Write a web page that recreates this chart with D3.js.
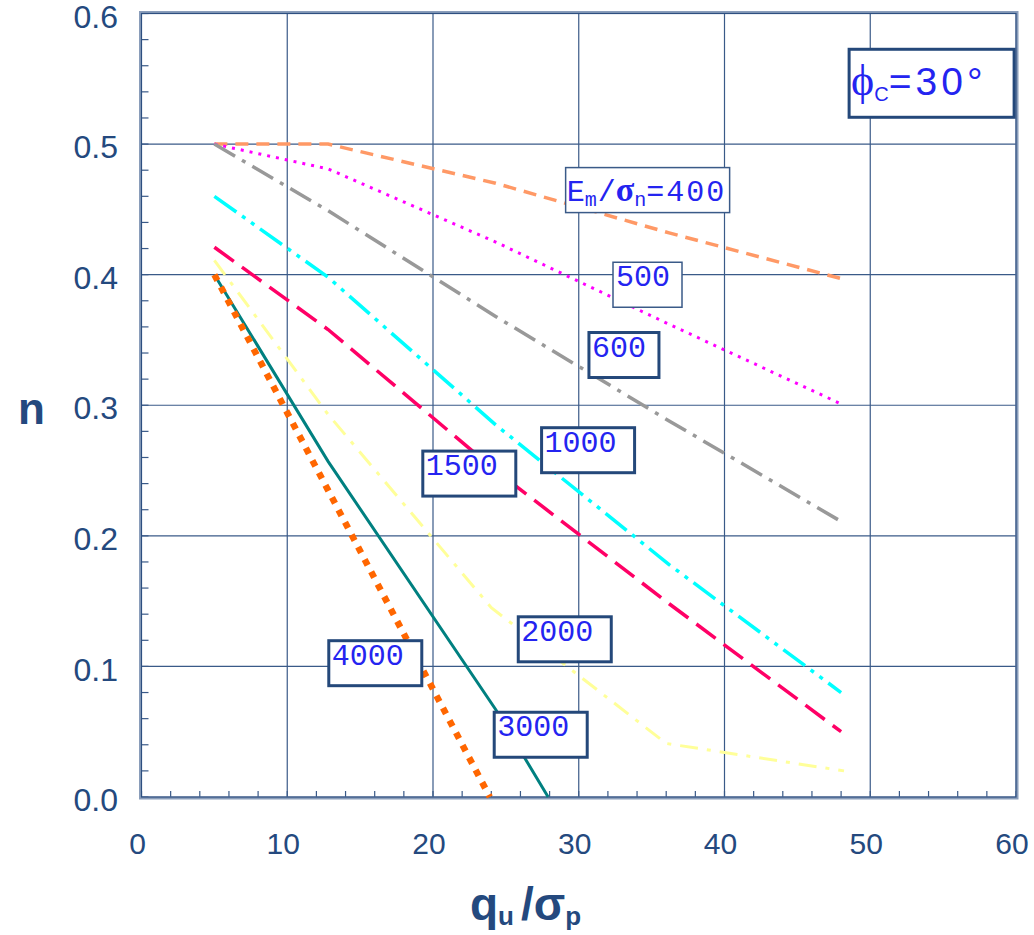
<!DOCTYPE html>
<html>
<head>
<meta charset="utf-8">
<script src="https://cdn.jsdelivr.net/npm/d3@7"></script>
<style>
  body { margin: 0; background: #fff; }
  svg { display: block; }
</style>
</head>
<body>
<div id="chart"></div>
<script>
// x values are q_u / sigma_p, y values are n
const ratio400 = [[5, 0.5], [12.8, 0.5], [24.3, 0.47], [36.2, 0.432], [48, 0.397]];
const ratio500 = [[5, 0.5], [12.8, 0.481], [24.3, 0.425], [36.2, 0.362], [48, 0.301]];
const ratio600 = [[5, 0.5], [12.8, 0.449], [24.3, 0.368], [36.2, 0.288], [48, 0.211]];
const ratio1000 = [[5, 0.46], [12.8, 0.398], [24.3, 0.285], [36.2, 0.178], [48, 0.08]];
const ratio1500 = [[5, 0.421], [12.8, 0.358], [24.3, 0.25], [36.2, 0.148], [48, 0.05]];
const ratio2000 = [[5, 0.411], [12.8, 0.293], [24, 0.145], [36, 0.041], [48.2, 0.02]];
const ratio3000 = [[5, 0.4], [12.8, 0.257], [24.3, 0.067], [27.9, 0]];
const ratio4000 = [[5, 0.4], [12.8, 0.235], [23.9, 0]];

const xTicks = [0, 10, 20, 30, 40, 50, 60];
const yTicks = [0, 0.1, 0.2, 0.3, 0.4, 0.5, 0.6];

const width = 1034, height = 935;
const axisColor = "#24497e";
const gridColor = "#3a5a88";
const labelBlue = "#2424f0";

const svg = d3.select("#chart").append("svg")
  .attr("width", width)
  .attr("height", height);

svg.append("rect").attr("width", width).attr("height", height).attr("fill", "#fff");

const x = d3.scaleLinear().domain([0, 60]).range([141.5, 1016]);
const y = d3.scaleLinear().domain([0, 0.6]).range([797, 13.5]);

// grid lines
svg.append("g").selectAll("line")
  .data(xTicks.slice(1, -1))
  .enter().append("line")
  .attr("x1", d => x(d)).attr("x2", d => x(d))
  .attr("y1", y(0.6)).attr("y2", y(0))
  .attr("stroke", gridColor).attr("stroke-width", 1.2);

svg.append("g").selectAll("line")
  .data(yTicks.slice(1, -1))
  .enter().append("line")
  .attr("x1", x(0)).attr("x2", x(60))
  .attr("y1", d => y(d)).attr("y2", d => y(d))
  .attr("stroke", gridColor).attr("stroke-width", 1.2);

// minor ticks pointing inward
svg.append("g").selectAll("line")
  .data(d3.range(0, 61, 2))
  .enter().append("line")
  .attr("x1", d => x(d)).attr("x2", d => x(d))
  .attr("y1", y(0)).attr("y2", y(0) - 6)
  .attr("stroke", gridColor).attr("stroke-width", 1.2);

svg.append("g").selectAll("line")
  .data(d3.range(0, 31).map(i => i * 0.02))
  .enter().append("line")
  .attr("x1", x(0)).attr("x2", x(0) + 7)
  .attr("y1", d => y(d)).attr("y2", d => y(d))
  .attr("stroke", gridColor).attr("stroke-width", 1.2);

// plot frame
svg.append("rect")
  .attr("x", x(0) - 1).attr("y", y(0.6) - 1)
  .attr("width", x(60) - x(0) + 2).attr("height", y(0) - y(0.6) + 2)
  .attr("fill", "none").attr("stroke", "#8a9dba").attr("stroke-width", 3);
svg.append("rect")
  .attr("x", x(0)).attr("y", y(0.6))
  .attr("width", x(60) - x(0)).attr("height", y(0) - y(0.6))
  .attr("fill", "none").attr("stroke", "#2d4f80").attr("stroke-width", 1.2);

// tick labels
svg.append("g").selectAll("text")
  .data(xTicks)
  .enter().append("text")
  .attr("x", d => x(d) - 4)
  .attr("y", 854)
  .attr("text-anchor", "middle")
  .attr("font-family", "Liberation Sans, Arial, sans-serif")
  .attr("font-size", 30)
  .attr("fill", axisColor)
  .text(d => d);

svg.append("g").selectAll("text")
  .data(yTicks)
  .enter().append("text")
  .attr("x", 118)
  .attr("y", d => y(d) + 3)
  .attr("dy", "0.35em")
  .attr("text-anchor", "end")
  .attr("font-family", "Liberation Sans, Arial, sans-serif")
  .attr("font-size", 32)
  .attr("fill", axisColor)
  .text(d => d.toFixed(1));

// axis titles
svg.append("text")
  .attr("x", 18).attr("y", 424)
  .attr("font-family", "Liberation Sans, Arial, sans-serif")
  .attr("font-size", 44).attr("font-weight", "bold")
  .attr("fill", axisColor)
  .text("n");

const xTitle = svg.append("text")
  .attr("x", 470).attr("y", 920)
  .attr("font-family", "Liberation Sans, Arial, sans-serif")
  .attr("font-weight", "bold")
  .attr("fill", axisColor);
xTitle.append("tspan").attr("font-size", 46).text("q");
xTitle.append("tspan").attr("font-size", 26).attr("dy", 5).text("u");
xTitle.append("tspan").attr("font-size", 46).attr("dy", -5).attr("dx", 7).text("/σ");
xTitle.append("tspan").attr("font-size", 26).attr("dy", 5).text("p");

// curves
const series = [
  { data: ratio400, color: "#ff9966", width: 3.5, dash: "13,8" },
  { data: ratio500, color: "#ff00ff", width: 3, dash: "3,6" },
  { data: ratio600, color: "#999999", width: 3.5, dash: "24,8,4,8" },
  { data: ratio1000, color: "#00ffff", width: 3.5, dash: "27,7,4,7,4,7" },
  { data: ratio1500, color: "#ff0066", width: 3.5, dash: "24,10" },
  { data: ratio2000, color: "#ffff99", width: 3, dash: "18,9,4,9" },
  { data: ratio3000, color: "#008080", width: 3, dash: null },
  { data: ratio4000, color: "#ff6600", width: 6.5, dash: "6.5,7.5" }
];

const line = d3.line().x(d => x(d[0])).y(d => y(d[1]));

svg.append("g").selectAll("path")
  .data(series)
  .enter().append("path")
  .attr("d", d => line(d.data))
  .attr("fill", "none")
  .attr("stroke", d => d.color)
  .attr("stroke-width", d => d.width)
  .attr("stroke-dasharray", d => d.dash);

// curve labels (box corner in data units)
const labels = [
  { text: "500", x: 32.35, y: 0.4095, w: 69, thin: true },
  { text: "600", x: 30.7, y: 0.3557, w: 70 },
  { text: "1000", x: 27.45, y: 0.2828, w: 93 },
  { text: "1500", x: 19.3, y: 0.2649, w: 93 },
  { text: "2000", x: 25.85, y: 0.138, w: 93 },
  { text: "3000", x: 24.2, y: 0.0649, w: 93 },
  { text: "4000", x: 12.85, y: 0.1197, w: 93 }
];

const boxH = 45;
labels.forEach(l => {
  const bx = x(l.x), by = y(l.y);
  svg.append("rect")
    .attr("x", bx).attr("y", by)
    .attr("width", l.w).attr("height", boxH)
    .attr("fill", "#fff")
    .attr("stroke", l.thin ? "#3a5a88" : "#24487a")
    .attr("stroke-width", l.thin ? 1.5 : 3);
  svg.append("text")
    .attr("x", bx + 3).attr("y", by + 24)
    .attr("font-family", "Liberation Mono, Courier New, monospace")
    .attr("font-size", 30)
    .attr("fill", labelBlue)
    .text(l.text);
});

// E_m / sigma_n = 400 label
const b400 = { x: x(29.1), y: y(0.482) };
svg.append("rect")
  .attr("x", b400.x).attr("y", b400.y)
  .attr("width", 164).attr("height", boxH)
  .attr("fill", "#fff").attr("stroke", "#3a5a88").attr("stroke-width", 1.5);
const t400 = svg.append("text")
  .attr("x", b400.x + 1).attr("y", b400.y + 33)
  .attr("font-family", "Liberation Mono, Courier New, monospace")
  .attr("font-size", 30)
  .attr("fill", labelBlue);
t400.append("tspan").text("E");
t400.append("tspan").attr("font-size", 20).attr("dy", 5).text("m");
t400.append("tspan").attr("dy", -5).attr("dx", 1).text("/");
t400.append("tspan").attr("font-family", "Liberation Serif, serif").attr("font-weight", "bold").attr("font-size", 34).text("σ");
t400.append("tspan").attr("font-size", 20).attr("dy", 5).text("n");
t400.append("tspan").attr("dy", -5).attr("letter-spacing", 2).text("=400");

// phi_c = 30 deg box
const bPhi = { x: x(48.55), y: y(0.5726) };
svg.append("rect")
  .attr("x", bPhi.x).attr("y", bPhi.y)
  .attr("width", 165).attr("height", 68)
  .attr("fill", "#fff").attr("stroke", "#24487a").attr("stroke-width", 3);
const tPhi = svg.append("text")
  .attr("x", bPhi.x + 2).attr("y", bPhi.y + 46)
  .attr("font-family", "Liberation Sans, Arial, sans-serif")
  .attr("font-size", 39)
  .attr("fill", labelBlue);
tPhi.append("tspan").attr("font-family", "Liberation Serif, serif").attr("font-size", 44).text("ϕ");
tPhi.append("tspan").attr("font-size", 20).attr("dy", 6).text("C");
tPhi.append("tspan").attr("dy", -6).attr("letter-spacing", 4).text("=30°");
</script>
</body>
</html>
